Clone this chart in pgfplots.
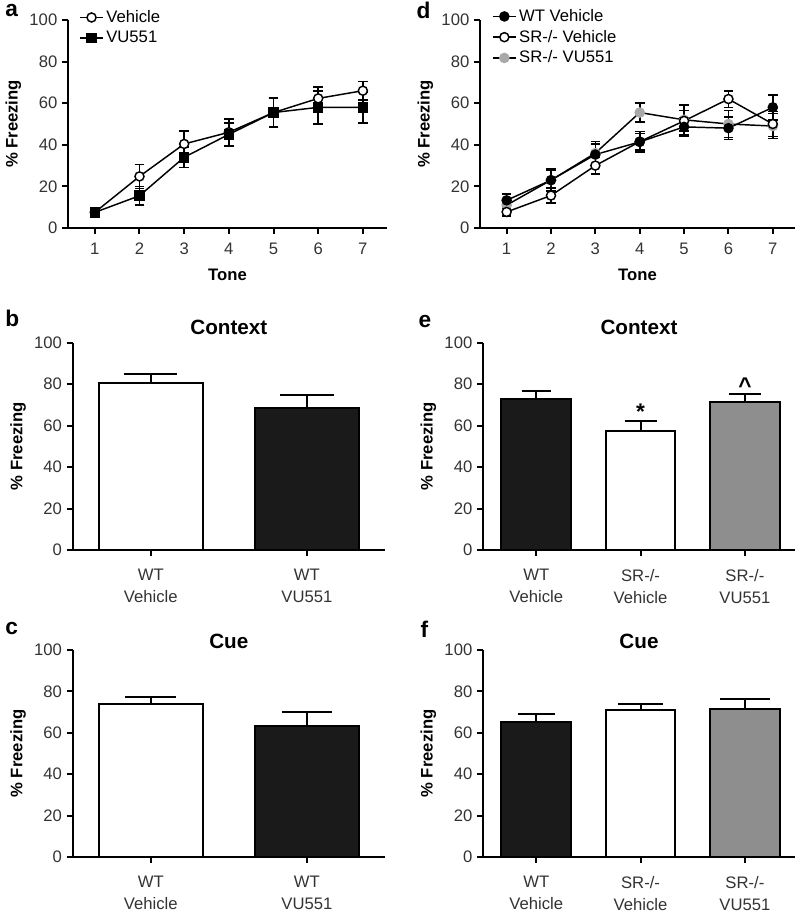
\documentclass[border=0pt]{standalone}
\usepackage{fontspec}
\setmainfont{Liberation Sans}
\usepackage{pgfplots}
\pgfplotsset{compat=1.18}

\definecolor{barblack}{HTML}{1A1A1A}
\definecolor{bargray}{HTML}{8E8E8E}
\definecolor{markgray}{HTML}{A8A8A8}
\definecolor{ticktext}{HTML}{333333}

\newcommand{\lbl}{\fontsize{12.5}{15}\selectfont}
\newcommand{\barlbl}{\fontsize{12.5}{16.5}\selectfont}
\newcommand{\ttl}{\bfseries\fontsize{15.5}{17}\selectfont}
\newcommand{\letter}{\bfseries\fontsize{17}{17}\selectfont}

\pgfplotsset{
  panel/.style={
    scale only axis,
    anchor=south west,
    axis x line*=bottom, axis y line*=left,
    axis line style={line width=1.5pt, black},
    ymin=0, ymax=100, ytick={0,20,...,100},
    minor tick num=0,
    tick align=outside, major tick length=4.5pt,
    tick style={line width=1.5pt, black},
    /pgf/number format/assume math mode=true,
    tick label style={font=\lbl, text=ticktext},
    xticklabel style={yshift=-3pt},
    ylabel={\% Freezing},
    every axis y label/.style={at={(axis description cs:0,0.5)}, xshift=-41pt,
      rotate=90, anchor=center, font=\bfseries\lbl},
    every axis x label/.style={at={(axis description cs:0.5,0)}, yshift=-35pt,
      anchor=center, font=\bfseries\lbl},
    title style={at={(0.5,1)}, anchor=base, font=\ttl},
  },
  linepanel/.style={
    panel, xtick={1,...,7}, xlabel={Tone},
    legend style={draw=none, fill=none, font=\lbl, anchor=north west,
      row sep=1pt, inner sep=0pt},
    legend cell align=left,
    every axis plot/.append style={black, line width=1.1pt, mark size=3.4pt,
      error bars/y dir=both, error bars/y explicit,
      error bars/error bar style={line width=1.2pt, black},
      error bars/error mark options={rotate=90, line width=1.2pt, mark size=3.6pt, black}},
  },
  barpanel/.style={
    panel, ybar, bar shift=0pt, bar width=0.667,
    xticklabel style={align=center, yshift=-3.5pt, font=\barlbl},
  },
  barerr/.style={draw=black, line width=1.5pt,
    error bars/y dir=plus, error bars/y explicit,
    error bars/error bar style={line width=1.5pt, black},
    error bars/error mark options={rotate=90, line width=1.5pt, mark size=#1, black}},
}

\begin{document}
\begin{tikzpicture}
\path[use as bounding box] (0,0) rectangle (598.5pt,687.75pt);

% panel letters
\node[font=\letter, anchor=base west] at (0.5pt,675pt) {a};
\node[font=\letter, anchor=base west] at (0.5pt,442.5pt) {b};
\node[font=\letter, anchor=base west] at (0.5pt,211.5pt) {c};
\node[font=\letter, anchor=base west] at (309pt,674pt) {d};
\node[font=\letter, anchor=base west] at (310.5pt,441.75pt) {e};
\node[font=\letter, anchor=base west] at (312pt,209.25pt) {f};

% a: tone, WT vehicle vs VU551
\begin{axis}[linepanel, at={(51pt,516.75pt)}, width=239.25pt, height=156pt,
  xmin=0.4, xmax=7.54,
  legend style={at={(0.035,1.06)}}]
\addplot[mark=*, mark options={fill=white, solid}] coordinates {
  (1,7.5) +- (0,1)   (2,24.8) +- (0,5.8) (3,40.4) +- (0,6.1) (4,46) +- (0,6.5)
  (5,55.5) +- (0,7)  (6,62.3) +- (0,5.5) (7,66) +- (0,4.5)};
\addlegendentry{Vehicle}
\addplot[mark=square*, mark options={fill=black, solid}] coordinates {
  (1,7.5) +- (0,1)   (2,15.5) +- (0,4.5) (3,34) +- (0,5)   (4,45) +- (0,5.5)
  (5,55.5) +- (0,7)  (6,58) +- (0,8)     (7,58) +- (0,7.5)};
\addlegendentry{VU551}
\end{axis}

% d: tone, three groups
\begin{axis}[linepanel, at={(360pt,516.75pt)}, width=236.25pt, height=156pt,
  xmin=0.4, xmax=7.5, reverse legend,
  legend style={at={(0.038,1.065)}}]
\addplot[mark=*, mark options={fill=markgray, draw=markgray, solid}] coordinates {
  (1,11) +- (0,3)    (2,23) +- (0,5)     (3,36) +- (0,5.5) (4,55.5) +- (0,4.5)
  (5,52) +- (0,7)    (6,50) +- (0,6.5)   (7,49) +- (0,6)};
\addlegendentry{SR-/- VU551}
\addplot[mark=*, mark options={fill=white, solid}] coordinates {
  (1,7.7) +- (0,2)   (2,15.6) +- (0,3.5) (3,30) +- (0,4)   (4,41.5) +- (0,4)
  (5,51.5) +- (0,5)  (6,62) +- (0,4)     (7,50) +- (0,6)};
\addlegendentry{SR-/- Vehicle}
\addplot[mark=*, mark options={fill=black, solid}] coordinates {
  (1,13.3) +- (0,3)  (2,23) +- (0,5.5)   (3,35.3) +- (0,5) (4,41.4) +- (0,5)
  (5,48.6) +- (0,4.5) (6,48) +- (0,5.5)  (7,58) +- (0,6)};
\addlegendentry{WT Vehicle}
\end{axis}

% b: context, WT
\begin{axis}[barpanel, at={(54.5pt,275.25pt)}, width=234.2pt, height=155.5pt,
  xmin=-0.5, xmax=1.5, xtick={0,1},
  xticklabels={{WT\\Vehicle},{WT\\VU551}}, title={Context}]
\addplot[fill=white, barerr=20pt] coordinates {(0,80.5) +- (0,4.6)};
\addplot[fill=barblack, barerr=20pt] coordinates {(1,68.6) +- (0,6.2)};
\end{axis}

% e: context, three groups
\begin{axis}[barpanel, at={(362.25pt,275.25pt)}, width=234pt, height=155.5pt,
  xmin=-0.51, xmax=2.48, xtick={0,1,2},
  xticklabels={{WT\\Vehicle},{SR-/-\\Vehicle},{SR-/-\\VU551}}, title={Context}]
\addplot[fill=barblack, barerr=11pt] coordinates {(0,72.9) +- (0,3.9)};
\addplot[fill=white, barerr=12pt] coordinates {(1,57.4) +- (0,4.6)};
\addplot[fill=bargray, barerr=12pt] coordinates {(2,71.2) +- (0,4.1)};
\node[font=\bfseries\fontsize{17}{17}\selectfont, anchor=base] at (axis cs:1,63) {*};
\node[font=\bfseries\fontsize{17}{17}\selectfont, anchor=base] at (axis cs:2,75.5) {\textasciicircum};
\end{axis}

% c: cue, WT
\begin{axis}[barpanel, at={(54.5pt,45pt)}, width=234.2pt, height=155.25pt,
  xmin=-0.5, xmax=1.5, xtick={0,1},
  xticklabels={{WT\\Vehicle},{WT\\VU551}}, title={Cue},
  title style={yshift=-5pt}]
\addplot[fill=white, barerr=19pt] coordinates {(0,73.8) +- (0,3.7)};
\addplot[fill=barblack, barerr=19pt] coordinates {(1,63.5) +- (0,6.5)};
\end{axis}

% f: cue, three groups
\begin{axis}[barpanel, at={(362.25pt,45pt)}, width=234pt, height=155.25pt,
  xmin=-0.51, xmax=2.48, xtick={0,1,2},
  xticklabels={{WT\\Vehicle},{SR-/-\\Vehicle},{SR-/-\\VU551}}, title={Cue},
  title style={yshift=-5pt}]
\addplot[fill=barblack, barerr=14pt] coordinates {(0,65.1) +- (0,4.2)};
\addplot[fill=white, barerr=17pt] coordinates {(1,71) +- (0,3)};
\addplot[fill=bargray, barerr=19pt] coordinates {(2,71.4) +- (0,5.1)};
\end{axis}
\end{tikzpicture}
\end{document}
